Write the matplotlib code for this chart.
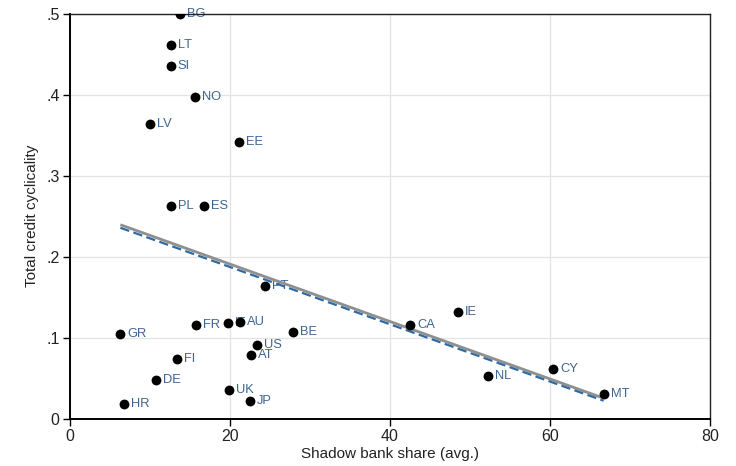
import matplotlib
matplotlib.use("Agg")
import matplotlib.pyplot as plt
import numpy as np

# Country codes, shadow bank share (avg., %) and total credit cyclicality
countries = ["BG", "LT", "SI", "NO", "LV", "EE", "PL", "ES", "PT", "FR",
             "IT", "AU", "GR", "BE", "US", "AT", "FI", "DE", "UK", "JP",
             "HR", "CA", "IE", "NL", "CY", "MT"]
shadow_share = [13.8, 12.6, 12.6, 15.6, 10.0, 21.1, 12.6, 16.8, 24.4, 15.7,
                19.8, 21.3, 6.3, 27.9, 23.4, 22.6, 13.4, 10.7, 19.9, 22.5,
                6.8, 42.5, 48.5, 52.3, 60.4, 66.7]
cyclicality = [0.500, 0.461, 0.435, 0.397, 0.364, 0.342, 0.263, 0.263, 0.164, 0.116,
               0.1185, 0.120, 0.105, 0.107, 0.091, 0.079, 0.074, 0.048, 0.035, 0.022,
               0.0185, 0.116, 0.132, 0.053, 0.061, 0.030]

# Alternative fitted line (intercept, slope)
alt_fit = (0.2618, -0.003545)

x_ticks = [0, 20, 40, 60, 80]
y_ticks = [0, 0.1, 0.2, 0.3, 0.4, 0.5]
y_ticklabels = ["0", ".1", ".2", ".3", ".4", ".5"]

font = ["Liberation Sans", "DejaVu Sans"]
label_color = "#3e6590"
text_color = "#222222"

fig = plt.figure(figsize=(7.36, 4.66), dpi=100)
ax = fig.add_axes([0.0951, 0.1015, 0.8696, 0.8690])

x = np.array(shadow_share)
y = np.array(cyclicality)

# country labels
for c, xi, yi in zip(countries, x, y):
    ax.annotate(c, (xi, yi), xytext=(5, 0), textcoords="offset points",
                va="center", ha="left", fontsize=9.3, color=label_color,
                family=font, zorder=2)

# fitted lines
xs = np.array([x.min(), x.max()])
ax.plot(xs, alt_fit[0] + alt_fit[1] * xs, color="#8f8f8f", lw=2.0,
        solid_capstyle="butt", zorder=3)
slope, intercept = np.polyfit(x, y, 1)
ax.plot(xs, intercept + slope * xs, color="#2f6aa3", lw=1.6,
        dashes=(4.2, 2.0), zorder=3.5)

ax.scatter(x, y, s=50, color="black", zorder=4, linewidths=0)

ax.set_xlim(0, 80)
ax.set_ylim(0, 0.5)
ax.set_xticks(x_ticks)
ax.set_yticks(y_ticks)
ax.set_yticklabels(y_ticklabels)
ax.grid(True, color="#e3e3e3", lw=0.9, zorder=0)
ax.set_axisbelow(True)

for lab in ax.get_xticklabels() + ax.get_yticklabels():
    lab.set_family(font)
    lab.set_fontsize(11.5)
    lab.set_color(text_color)

ax.tick_params(axis="both", direction="out", length=5, width=1.0,
               color="black", pad=2.5)

for side in ["left", "bottom"]:
    ax.spines[side].set_linewidth(1.4)
    ax.spines[side].set_color("black")
for side in ["top", "right"]:
    ax.spines[side].set_linewidth(1.0)
    ax.spines[side].set_color(text_color)

ax.set_xlabel("Shadow bank share (avg.)", family=font, fontsize=11,
              color=text_color)
ax.set_ylabel("Total credit cyclicality", family=font, fontsize=11,
              color=text_color)
ax.xaxis.set_label_coords(0.5, -0.07)
ax.yaxis.set_label_coords(-0.049, 0.5)

fig.savefig("out.png", dpi=100)
